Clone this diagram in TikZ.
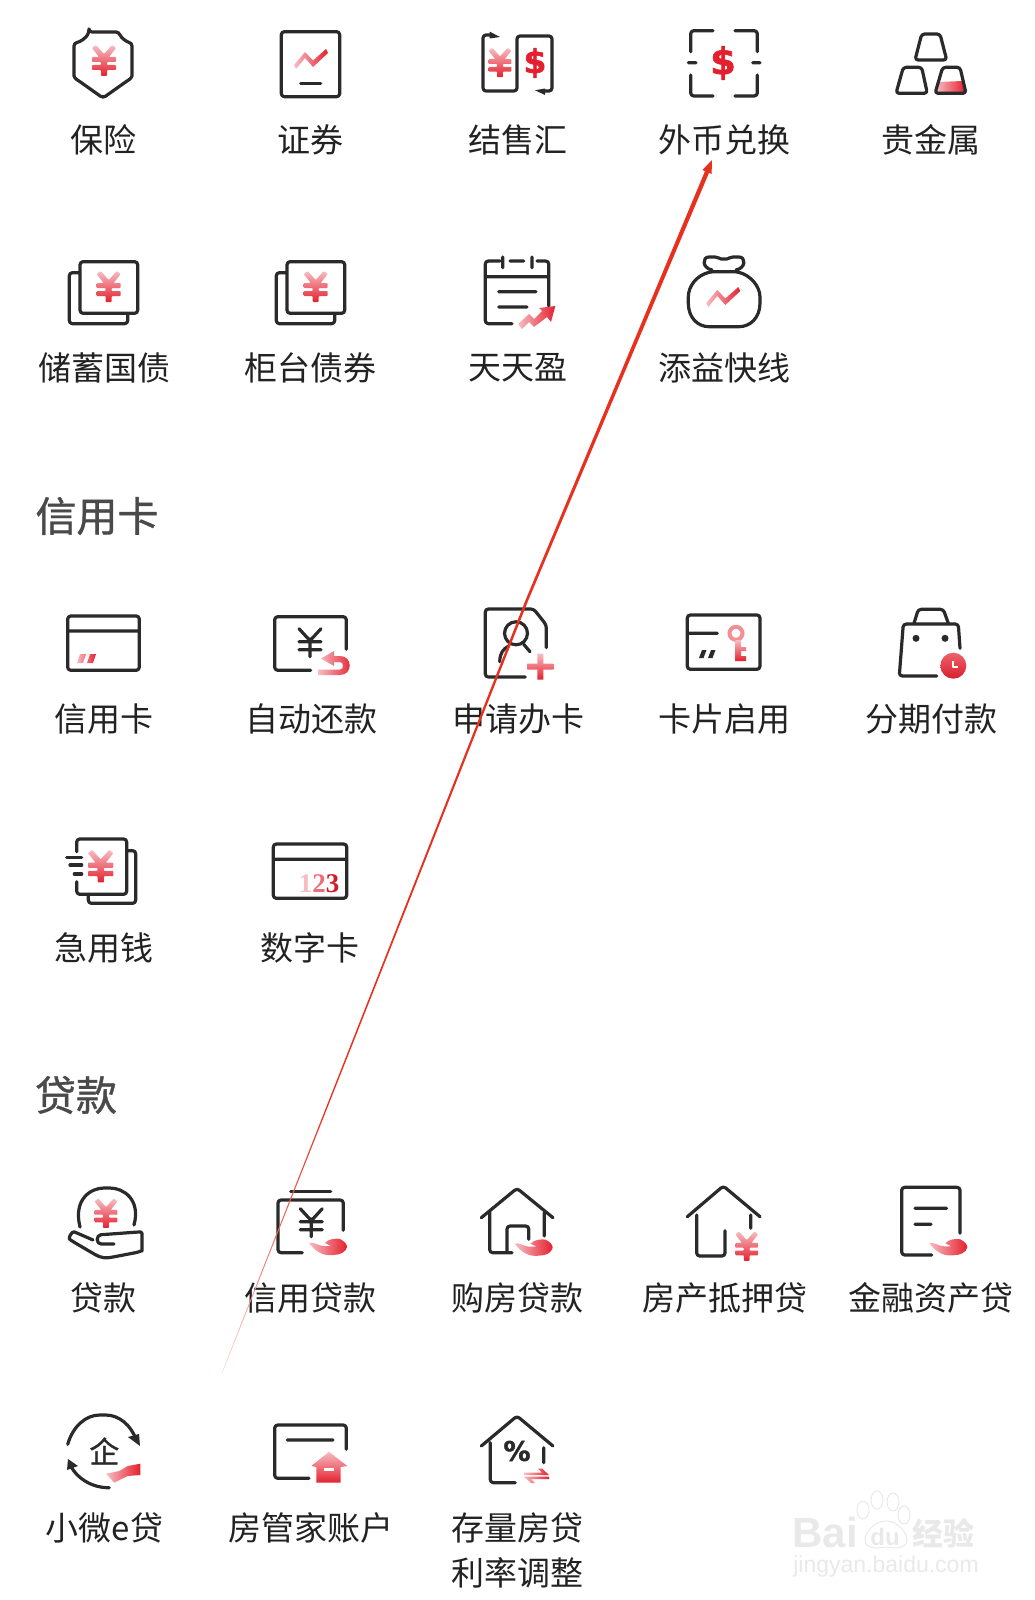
\documentclass[tikz,border=0pt]{standalone}
\usepackage{fontspec}
\setmainfont{Noto Sans CJK SC}
\newfontfamily\headfont[FakeBold=1]{Noto Sans CJK SC}
\newfontfamily\sansnum{Liberation Sans}
\newfontfamily\heavynum[FakeBold=1.5]{DejaVu Sans Bold}
\newfontfamily\serifnum{Liberation Serif}
\usetikzlibrary{calc}

\definecolor{icodark}{HTML}{2A2A2A}
\definecolor{txtdark}{HTML}{222222}
\definecolor{headgray}{HTML}{4A4A4A}
\definecolor{redlt}{HTML}{F6BDC3}
\definecolor{redmd}{HTML}{E5202E}
\definecolor{arrowred}{HTML}{E8301F}
\definecolor{markgray}{HTML}{E9E9E9}

\pgfdeclareverticalshading{arrowfade}{100bp}{color(0bp)=(arrowred!15); color(25bp)=(arrowred!15); color(29bp)=(arrowred!60); color(36bp)=(arrowred); color(100bp)=(arrowred)}

\tikzset{
	ico/.style={draw=icodark,line width=3.2pt,line cap=round,line join=round,rounded corners=3pt},
	lbl/.style={font=\fontsize{33}{36}\selectfont,text=txtdark,inner sep=0pt},
	headlbl/.style={font=\headfont\fontsize{41}{44}\selectfont,text=headgray,inner sep=0pt},
	redtop/.style={top color=redlt,bottom color=redmd,draw=none},
	redside/.style={left color=redlt,right color=redmd,draw=none},
	markline/.style={draw=markgray,line width=1pt},
	colA/.style={shift={(1,1)}},
	colB/.style={shift={(4,1)}},
	colC/.style={shift={(7,1)}},
}

\newcommand{\redyuan}[3]{\path[redtop,shift={(#1,#2)},scale=#3,rounded corners=.8pt] (-12,-13) -- (-8,-16) -- (0,-7) -- (8,-16) -- (12,-13) -- (5,-4) -- (12,-4) -- (12,1) -- (3,1) -- (3,4) -- (12,4) -- (12,9) -- (3,9) -- (3,15) -- (-3,15) -- (-3,9) -- (-12,9) -- (-12,4) -- (-3,4) -- (-3,1) -- (-12,1) -- (-12,-4) -- (-5,-4) -- cycle;}
\newcommand{\darkyuan}[2]{\draw[ico,shift={(#1,#2)}] (-11,-14) -- (0,-2) -- (11,-14) (-11,-1) -- (11,-1) (-11,7) -- (11,7) (0,-2) -- (0,14);}
\newcommand{\redzig}[3]{\path[redside,shift={(#1,#2)},scale=#3] (-17,6) -- (-6,-7) -- (2,1.5) -- (15,-10) -- (17,-6) -- (2,8) -- (-6,-1) -- (-15,10) -- cycle;}
\newcommand{\redhand}[2]{\path[redside,shift={(#1,#2)}] (-19,-4) .. controls (-15,-6) and (-10,-1) .. (-4,-1) -- (3,-1) -- (-3,-4) .. controls (0,-8) and (8,-9) .. (12,-8) .. controls (16,-6) and (19,-3) .. (19,0) .. controls (18,5) and (12,8) .. (5,8) .. controls (-5,9) and (-12,5) .. (-19,-4) -- cycle;}
\newcommand{\moneycards}[1]{\draw[ico,shift={(#1,0)}] (79,260.7) rectangle (136.7,312.3) (79,271.7) -- (68.3,271.7) -- (68.3,322.7) -- (126.7,322.7) -- (126.7,312.3);}

\begin{document}
\begin{tikzpicture}[x=1pt,y=-1pt]
	\useasboundingbox (0,0) rectangle (1034,1600);

	% row 1
	\begin{scope}[colA]
		\draw[ico] (88,31) -- (118,31) .. controls (120,37) and (126,41) .. (131,42) -- (131,72) .. controls (131,76) and (129,78) .. (126,80) -- (102,97) -- (78,80) .. controls (75,78) and (73,76) .. (73,72) -- (73,42) .. controls (79,41) and (85,37) .. (88,31) -- cycle;
		\redyuan{103}{60}{1}
	\end{scope}
	\node[lbl] (A1) at (103.5,139.5) {保险};

	\begin{scope}[colB]
		\draw[ico] (277.3,30.7) rectangle (335.7,95.7);
		\redzig{307}{58}{1}
		\draw[ico] (296.7,82.7) -- (316.7,82.7);
	\end{scope}
	\node[lbl] (B1) at (310.5,139.5) {证券};

	\begin{scope}[colC]
		\draw[ico] (486,34) -- (476,34) -- (476,90) -- (510,90) -- (510,35) -- (545,35) -- (545,90) -- (535,90);
		\fill[icodark] (482.7,30.7) -- (493,36) -- (482.7,37.5) -- cycle;
		\fill[icodark] (538,87.5) -- (528,89.3) -- (538,94) -- cycle;
		\redyuan{493}{62}{.95}
		\node[font=\heavynum\fontsize{33}{33}\selectfont,text=redmd,inner sep=0pt] (D1a) at (528,62) {\$};
	\end{scope}
	\node[lbl] (C1) at (517.5,139.5) {结售汇};

	\draw[ico] (713,30.7) -- (690.7,30.7) -- (690.7,51.7) (735,30.7) -- (757.3,30.7) -- (757.3,51.7) (690.7,75) -- (690.7,96) -- (713,96) (757.3,75) -- (757.3,96) -- (735,96) (688.3,62.7) -- (696,62.7) (752.7,62.7) -- (760,62.7);
	\node[font=\heavynum\fontsize{37}{37}\selectfont,text=redmd,inner sep=0pt] (D1b) at (723,63) {\$};
	\node[lbl] (D1) at (724.5,139.5) {外币兑换};

	\draw[ico] (921.7,34) -- (940,34) -- (946.7,60) -- (915,60) -- cycle;
	\draw[ico] (903.3,67.3) -- (921.7,67.3) -- (927.3,93.3) -- (896,93.3) -- cycle;
	\path[redside] (938,82) -- (963,81) -- (965,92) -- (936,92) -- cycle;
	\draw[ico] (942.7,67.3) -- (960,67.3) -- (966,93.3) -- (935,93.3) -- cycle;
	\node[lbl] (E1) at (930.5,139.5) {贵金属};

	% row 2
	\begin{scope}[colA]
		\moneycards{0}
		\redyuan{107.7}{286}{1}
	\end{scope}
	\node[lbl] (A2) at (104,368) {储蓄国债};

	\begin{scope}[colB]
		\moneycards{204}
		\redyuan{311.7}{286}{1}
	\end{scope}
	\node[lbl] (B2) at (310.5,368) {柜台债券};

	\begin{scope}[colC]
		\draw[ico] (493,260) -- (478.3,260) -- (478.3,322.7) -- (505,322.7) (495.7,256) -- (495.7,266.7) (503,260) -- (516.7,260) (525,256) -- (525,266.7) (530,260) -- (541.7,260) -- (541.7,305) (478.3,275.7) -- (541.7,275.7) (491.7,290.7) -- (529,290.7) (491.7,306) -- (520,306);
		\path[redside] (511,323) -- (522,313) -- (527,318) -- (535,310) -- (532,307) -- (548.3,305) -- (544,321) -- (540,316) -- (527,326) -- (522,321) -- (515,328) -- cycle;
	\end{scope}
	\node[lbl] (C2) at (517.5,368) {天天盈};

	\draw[ico] (712,271.7) .. controls (697,275) and (688.3,286) .. (688.3,300) .. controls (688.3,318) and (698,326.7) .. (712,326.7) -- (736,326.7) .. controls (750,326.7) and (760,318) .. (760,300) .. controls (760,286) and (750,275) .. (736,271.7) -- cycle;
	\draw[ico] (712,270) .. controls (702,268) and (702,257) .. (712,257) .. controls (718,257) and (720,259) .. (724,259) .. controls (728,259) and (730,257) .. (736,257) .. controls (746,257) and (746,268) .. (736,270);
	\redzig{723.3}{297}{1}
	\node[lbl] (D2) at (724,368) {添益快线};

	% credit card section
	\node[headlbl] (H1) at (97,516) {信用卡};

	% row 3
	\begin{scope}[colA]
		\draw[ico] (66.7,615) rectangle (138.3,669.3) (66.7,630) -- (138.3,630);
		\path[redside] (76,662) -- (79,653) -- (85,653) -- (82,662) -- cycle (86,662) -- (89,653) -- (95,653) -- (92,662) -- cycle;
	\end{scope}
	\node[lbl] (A3) at (103.5,719) {信用卡};

	\begin{scope}[colB]
		\draw[ico] (306.7,669.3) -- (270.7,669.3) -- (270.7,615.7) -- (342.3,615.7) -- (342.3,648.3);
		\darkyuan{306}{641.7}
		\path[redside] (314,668.5) -- (336,668.5) .. controls (340,668.5) and (340,661) .. (336,661) -- (330,661) -- (330,665) -- (317,657.5) -- (330,650) -- (330,655) -- (336,655) .. controls (349,655) and (349,674) .. (336,674) -- (314,674) -- cycle;
	\end{scope}
	\node[lbl] (B3) at (311,719) {自动还款};

	\begin{scope}[colC]
		\draw[ico] (518.3,676) -- (478.3,676) -- (478.3,608) -- (526.7,608) -- (539.3,624) -- (539.3,646.7);
		\draw[ico] (509,632.3) circle (11.5);
		\draw[ico] (492.7,660.7) .. controls (493,652) and (496,648) .. (501.7,645);
		\draw[ico] (516.7,643.3) -- (523,650.7);
		\path[redtop] (530.3,652.7) -- (536.3,652.7) -- (536.3,662.7) -- (546.3,662.7) -- (546.3,668.7) -- (536.3,668.7) -- (536.3,678.7) -- (530.3,678.7) -- (530.3,668.7) -- (520.3,668.7) -- (520.3,662.7) -- (530.3,662.7) -- cycle;
	\end{scope}
	\node[lbl] (C3) at (518,719) {申请办卡};

	\draw[ico] (687.3,615) rectangle (760,669.3) (688.3,633.3) -- (717.3,633.3);
	\fill[icodark] (699,658) -- (702,650) -- (706.5,650) -- (703.5,658) -- cycle (708,658) -- (711,650) -- (715.5,650) -- (712.5,658) -- cycle;
	\draw[draw=redmd!50,line width=4pt] (736,633.3) circle (6.5);
	\path[redtop] (735.5,640) -- (741,640) -- (741,647) -- (746,647) -- (746,651) -- (741,651) -- (741,656) -- (746,656) -- (746,661) -- (735.5,661) -- cycle;
	\node[lbl] (D3) at (724,719) {卡片启用};

	\draw[ico] (914,623.3) -- (918.3,609.3) -- (943.3,609.3) -- (948.3,623.3);
	\draw[ico] (960,648.3) -- (958.3,624) -- (903.3,624) -- (899.3,676) -- (936.7,676);
	\fill[icodark] (916,638.3) circle (3.5) (945,638.3) circle (3.5);
	\shade[top color=redmd!70,bottom color=redmd!95!black] (953.3,665.7) circle (13);
	\draw[draw=white,line width=2pt,line join=round] (952.7,660.7) -- (952.7,666.7) -- (958.3,666.7);
	\node[lbl] (E3) at (931,719) {分期付款};

	% row 4
	\draw[ico] (76.7,851.7) -- (76.7,839) -- (126.7,839) -- (126.7,894.3) -- (76.7,894.3) -- (76.7,881.7);
	\draw[ico] (128.3,850.7) -- (135.7,850.7) -- (135.7,903.3) -- (88.3,903.3) -- (88.3,894.3);
	\draw[ico] (66.7,857.3) -- (81.7,857.3) (70,865) -- (81.7,865) (74.3,874) -- (81.7,874);
	\redyuan{100.7}{866.7}{1.05}
	\node[lbl] (A4) at (103.5,948) {急用钱};

	\draw[ico] (273.3,844) rectangle (346.7,898.3) (273.3,859.3) -- (346.7,859.3);
	\node[font=\serifnum\bfseries\fontsize{27}{27}\selectfont,inner sep=0pt] (B4a) at (319,883.3) {\textcolor{redmd!30}{1}\textcolor{redmd!65}{2}\textcolor{redmd!90!black}{3}};
	\node[lbl] (B4) at (309.5,948) {数字卡};

	% loan section
	\node[headlbl] (H2) at (76,1095) {贷款};

	% row 5
	\begin{scope}[colA]
		\draw[ico] (79,1226) .. controls (72,1198) and (90,1187) .. (106,1187) .. controls (122,1187) and (140,1198) .. (133,1224);
		\redyuan{105}{1212.7}{.95}
		\draw[ico] (113,1243) -- (103,1243) .. controls (95,1243) and (95,1234) .. (103,1233.5) -- (137,1231) .. controls (140,1231) and (141,1233) .. (141,1235) -- (141,1247) .. controls (141,1250) and (140,1250) .. (138,1251) -- (112,1256) .. controls (100,1258) and (95,1254) .. (88,1250) -- (71,1240) .. controls (67,1237) and (71,1230) .. (76,1232) -- (92,1239);
	\end{scope}
	\node[lbl] (A5) at (103.5,1298) {贷款};

	\begin{scope}[colB]
		\draw[ico] (286.7,1190.7) -- (326.7,1190.7);
		\draw[ico] (298.3,1251.7) -- (274,1251.7) -- (274,1199) -- (339.3,1199) -- (339.3,1229.3);
		\darkyuan{307.3}{1221.7}
		\redhand{324}{1246}
	\end{scope}
	\node[lbl] (B5) at (310.5,1298) {信用贷款};

	\begin{scope}[colC]
		\draw[ico] (474.3,1216.7) -- (510,1187.3) -- (546,1216.7) (482.7,1210.7) -- (482.7,1251.7) -- (505,1251.7) (537.3,1211.7) -- (537.3,1235) (500,1251.7) -- (500,1225) -- (521.7,1225) -- (521.7,1238.3);
		\redhand{526.7}{1246.7}
	\end{scope}
	\node[lbl] (C5) at (517.5,1298) {购房贷款};

	\draw[ico] (687.3,1216.7) -- (723.3,1186) -- (760,1216.7) (696.7,1215) -- (696.7,1256) -- (725,1256) -- (725,1230.7) (750.7,1215) -- (750.7,1228.3);
	\redyuan{746.7}{1246.7}{.95}
	\node[lbl] (D5) at (724.5,1298) {房产抵押贷};

	\draw[ico] (931.7,1255) -- (901.7,1255) -- (901.7,1187.3) -- (960,1187.3) -- (960,1233.3) (915,1208.3) -- (946.7,1208.3) (915,1224.3) -- (931,1224.3);
	\redhand{948.3}{1247.3}
	\node[lbl] (E5) at (930.5,1298) {金融资产贷};

	% row 6
	\begin{scope}[colA]
		\draw[ico] (66.7,1443.3) .. controls (72,1425) and (85,1414) .. (101.7,1414) .. controls (118,1414) and (130,1424) .. (135.3,1439);
		\fill[icodark] (127,1436) -- (138,1433) -- (139,1445) -- cycle;
		\draw[ico] (108.3,1486.7) .. controls (90,1487) and (74,1476) .. (68.3,1462);
		\fill[icodark] (67,1458) -- (77,1465) -- (66,1469) -- cycle;
		\node[font=\headfont\fontsize{30}{30}\selectfont,text=icodark,inner sep=0pt] (A6a) at (103.3,1450) {企};
		\path[redside] (105,1472.7) -- (118.3,1470) -- (126.7,1465) -- (139.3,1462.7) -- (139.3,1474) -- (126.7,1475) -- (113.3,1481.7) -- cycle;
	\end{scope}
	\node[lbl] (A6) at (104.5,1528) {小微e贷};

	\begin{scope}[colB]
		\draw[ico] (305,1477.3) -- (270.7,1477.3) -- (270.7,1424) -- (342.3,1424) -- (342.3,1448.3) (283.3,1439) -- (329,1439);
		\path[redtop] (325,1450.7) -- (343.3,1465) -- (336.7,1466) -- (336.7,1481.7) -- (312.3,1481.7) -- (312.3,1466) -- (307.3,1465) -- cycle;
		\fill[white] (320,1466.5) rectangle (330,1469.5);
	\end{scope}
	\node[lbl] (B6) at (311,1528) {房管家账户};

	\begin{scope}[colC]
		\draw[ico] (474.3,1445) -- (510,1415) -- (546,1445) (483.3,1441.7) -- (483.3,1481.7) -- (508.3,1481.7) (536.7,1446.7) -- (536.7,1461.7);
		\node[font=\heavynum\fontsize{27}{27}\selectfont,text=icodark,inner sep=0pt] (C6a) at (510,1450) {\%};
		\path[redside] (517,1471.5) -- (535,1471.5) -- (531,1467.5) -- (535,1467.5) -- (542,1474) -- (517,1474) -- cycle (542,1478) -- (524,1478) -- (528,1482) -- (524,1482) -- (517,1475.8) -- (517,1475.5) -- (542,1475.5) -- cycle;
	\end{scope}
	\node[lbl] (C6) at (517.5,1528) {存量房贷};
	\node[lbl] (C7) at (517.5,1573) {利率调整};

	% watermark
	\node[font=\sansnum\bfseries\fontsize{42}{42}\selectfont,text=markgray,inner sep=0pt] (M1) at (825,1532) {Bai};
	\draw[markline] (863,1510) ellipse (6 and 9) (877,1500) ellipse (6 and 9) (893,1502) ellipse (6 and 9) (904,1515) ellipse (6 and 9);
	\draw[markline] (886,1521) .. controls (875,1521) and (865,1532) .. (865,1540) .. controls (865,1548) and (875,1549) .. (886,1547) .. controls (897,1549) and (907,1548) .. (907,1540) .. controls (907,1532) and (897,1521) .. (886,1521) -- cycle;
	\node[font=\sansnum\bfseries\fontsize{24}{24}\selectfont,text=markgray,inner sep=0pt] (M2) at (885,1537) {du};
	\node[font=\bfseries\fontsize{31}{31}\selectfont,text=markgray,inner sep=0pt] (M3) at (943,1533) {经验};
	\node[font=\sansnum\fontsize{23}{23}\selectfont,text=markgray,inner sep=0pt] (M4) at (886,1567) {jingyan.baidu.com};

	% red arrow over everything
	\coordinate (tail) at (222,1373);
	\coordinate (bend) at (527,600);
	\coordinate (neck) at (707,172);
	\coordinate (tip) at (712,160);
	\shade[shading=arrowfade] ($(tail)+(-.3,-.1)$) -- ($(bend)+(-1.2,-.5)$) -- ($(neck)+(-2,-.85)$) -- ($(neck)+(-4.6,-2)$) -- (tip) -- ($(neck)+(4.6,2)$) -- ($(neck)+(2,.85)$) -- ($(bend)+(1.2,.5)$) -- ($(tail)+(.3,.1)$) -- cycle;
\end{tikzpicture}
\end{document}
